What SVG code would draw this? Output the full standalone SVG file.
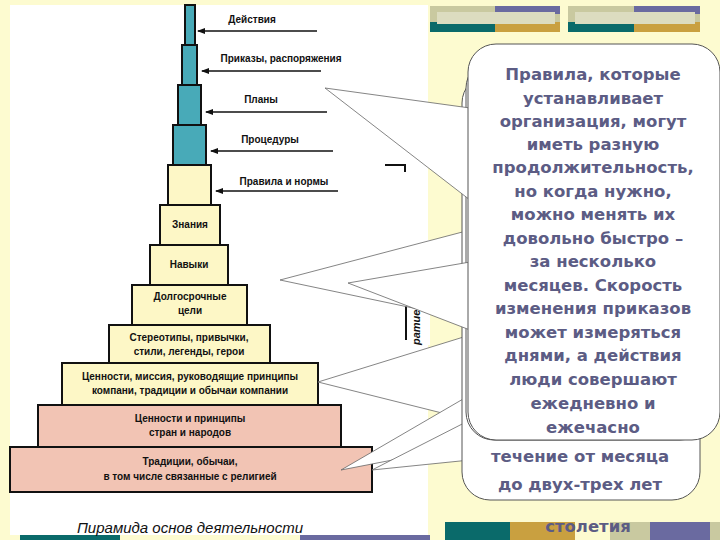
<svg xmlns="http://www.w3.org/2000/svg" width="720" height="540" viewBox="0 0 720 540">
<defs>
<style>
.t{fill:#48aab8;stroke:#111;stroke-width:2}
.c{fill:#fdf7c6;stroke:#111;stroke-width:2}
.p{fill:#f2c4b4;stroke:#111;stroke-width:2}
.l{font-family:"Liberation Sans",Arial,sans-serif;font-weight:bold;font-size:10px;fill:#111;text-anchor:middle}
.b{font-family:"DejaVu Sans",Verdana,sans-serif;font-weight:bold;font-size:16.5px;fill:#5c5c84;text-anchor:middle}
.co{fill:#fff;stroke:#555;stroke-width:1}
.pt{fill:#fff;stroke:#666;stroke-width:0.8}
</style>
<marker id="ah" markerWidth="8" markerHeight="6" refX="7" refY="3" orient="auto" markerUnits="userSpaceOnUse"><path d="M0,0L8,3L0,6z" fill="#111"/></marker>
</defs>
<rect width="720" height="540" fill="#fdfbd0"/>
<rect x="10" y="5" width="418" height="530" fill="#fff"/>
<g id="deco">
<rect x="430" y="6" width="130" height="26" fill="#c9c9a0"/><rect x="430" y="22" width="65" height="10" fill="#0a6a6a"/><rect x="495" y="22" width="65" height="10" fill="#c9a040"/><rect x="495" y="6" width="65" height="8" fill="#6a6aa0"/><rect x="437" y="12" width="118" height="12" fill="#dcdcc0"/>
<rect x="568" y="6" width="132" height="26" fill="#c9c9a0"/><rect x="568" y="22" width="66" height="10" fill="#0a6a6a"/><rect x="634" y="22" width="66" height="10" fill="#c9a040"/><rect x="634" y="6" width="66" height="8" fill="#6a6aa0"/><rect x="575" y="12" width="120" height="12" fill="#dcdcc0"/>
<rect x="20" y="535" width="100" height="5" fill="#0a6a6a"/><rect x="300" y="535" width="130" height="5" fill="#6a6aa0"/><rect x="445" y="522" width="130" height="18" fill="#0a6a6a"/><rect x="510" y="522" width="65" height="18" fill="#c9a040"/><rect x="610" y="522" width="110" height="18" fill="#c9c9a0"/><rect x="650" y="522" width="60" height="18" fill="#6a6aa0"/>
</g>
<g id="pyramid">
<rect class="t" x="185" y="5" width="10" height="40"/>
<rect class="t" x="182" y="45" width="15" height="40"/>
<rect class="t" x="178" y="85" width="23" height="40"/>
<rect class="t" x="173" y="125" width="33" height="40"/>
<rect class="c" x="168" y="165" width="43" height="40"/>
<g id="n1"><rect class="c" x="160" y="205" width="60" height="40"/><text class="l" x="190" y="228">Знания</text></g>
<g id="n2"><rect class="c" x="150" y="245" width="78" height="40"/><text class="l" x="189" y="268">Навыки</text></g>
<g id="n3"><rect class="c" x="132" y="285" width="115" height="40"/><text class="l" x="190" y="300">Долгосрочные</text><text class="l" x="190" y="314">цели</text></g>
<g id="n4"><rect class="c" x="109" y="325" width="161" height="38"/><text class="l" x="189" y="341">Стереотипы, привычки,</text><text class="l" x="189" y="355">стили, легенды, герои</text></g>
<g id="n5"><rect class="c" x="62" y="363" width="256" height="42"/><text class="l" x="190" y="380">Ценности, миссия, руководящие принципы</text><text class="l" x="190" y="394">компани, традиции и обычаи компании</text></g>
<g id="n6"><rect class="p" x="38" y="405" width="303" height="42"/><text class="l" x="190" y="422">Ценности и принципы</text><text class="l" x="190" y="436">стран и народов</text></g>
<g id="n7"><rect class="p" x="10" y="447" width="362" height="45"/><text class="l" x="190" y="465">Традиции, обычаи,</text><text class="l" x="190" y="480">в том числе связанные с религией</text></g>
</g>
<text x="190" y="533" font-family="Liberation Sans,Arial,sans-serif" font-style="italic" font-size="15" fill="#111" text-anchor="middle">Пирамида основ деятельности</text>
<g id="connectors" stroke="#111" stroke-width="1.5" marker-end="url(#ah)">
<line x1="317" y1="31" x2="198" y2="31"/>
<line x1="321" y1="71" x2="202" y2="71"/>
<line x1="327" y1="112" x2="206" y2="112"/>
<line x1="333" y1="151" x2="211" y2="151"/>
<line x1="338" y1="191" x2="216" y2="191"/>
</g>
<g>
<text class="l" x="252" y="23">Действия</text>
<text class="l" x="281" y="62">Приказы, распоряжения</text>
<text class="l" x="261" y="103">Планы</text>
<text class="l" x="270" y="143">Процедуры</text>
<text class="l" x="284" y="185">Правила и нормы</text>
</g>
<g id="midline">
<path d="M385,165H405V172" fill="none" stroke="#111" stroke-width="2"/>
<rect x="406" y="240" width="24" height="105" fill="#fff"/>
<line x1="406" y1="250" x2="406" y2="340" stroke="#111" stroke-width="2"/>
<text transform="translate(420,345) rotate(-90)" font-family="Liberation Sans,Arial,sans-serif" font-weight="bold" font-style="italic" font-size="11" fill="#111">ратиеная к</text>
</g>
<g id="callouts">
<text class="b" x="588" y="532">столетия</text>
<path class="pt" d="M280,280L470,230L470,320z"/>
<path class="pt" d="M318,382L470,335L470,420z"/>
<path class="pt" d="M341,470L470,395L470,445z"/>
<path class="pt" d="M372,470L470,420L470,460z"/>
<rect class="co" x="462" y="75" width="238" height="425" rx="28"/>
<text class="b" x="580" y="462">течение от месяца</text>
<text class="b" x="580" y="490">до двух-трех лет</text>
<rect class="co" x="466" y="60" width="242" height="380" rx="28"/>
<path class="pt" d="M325,88L470,108L470,200z"/>
<path class="pt" d="M348,283L470,262L470,330z"/>
<rect x="468" y="44" width="252" height="396" rx="28" fill="#fff" stroke="#555"/>
<g class="b">
<text x="593" y="80">Правила, которые</text>
<text x="593" y="104">устанавливает</text>
<text x="593" y="127">организация, могут</text>
<text x="593" y="150">иметь разную</text>
<text x="593" y="173">продолжительность,</text>
<text x="593" y="197">но когда нужно,</text>
<text x="593" y="220">можно менять их</text>
<text x="593" y="244">довольно быстро –</text>
<text x="593" y="267">за несколько</text>
<text x="593" y="291">месяцев. Скорость</text>
<text x="593" y="314">изменения приказов</text>
<text x="593" y="338">может измеряться</text>
<text x="593" y="361">днями, а действия</text>
<text x="593" y="385">люди совершают</text>
<text x="593" y="409">ежедневно и</text>
<text x="593" y="433">ежечасно</text>
</g>
</g>
</svg>
